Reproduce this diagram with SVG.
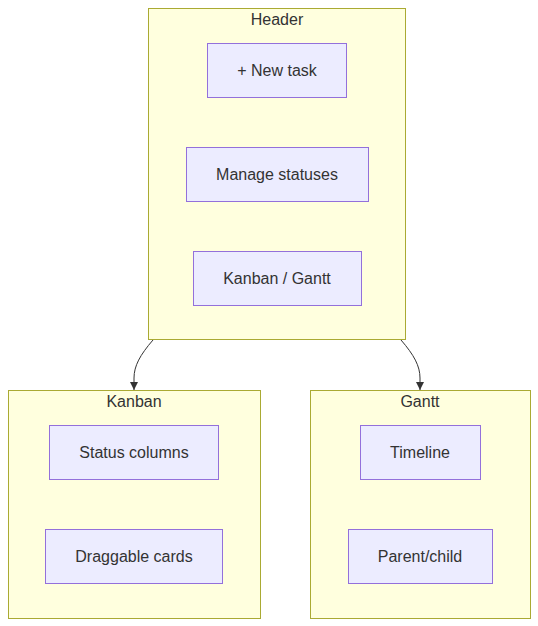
<svg xmlns="http://www.w3.org/2000/svg" width="538" height="626" viewBox="0 0 538 626">
<defs>
<marker id="arr" viewBox="0 0 10 10" refX="10" refY="5" markerWidth="8" markerHeight="8" markerUnits="userSpaceOnUse" orient="auto">
<path d="M0,0 L10,5 L0,10 z" fill="#333"/>
</marker>
</defs>
<style>
.cluster{fill:#ffffde;stroke:#aaaa33;stroke-width:1}
.node rect{fill:#ececff;stroke:#9370db;stroke-width:1}
text{font-family:"Liberation Sans",Arial,sans-serif;font-size:16px;fill:#333;text-anchor:middle}
.edge{fill:none;stroke:#333;stroke-width:1}
</style>
<rect width="538" height="626" fill="#fff"/>
<g id="Header">
<rect class="cluster" x="148.5" y="8.5" width="257" height="331"/>
<text x="277" y="25">Header</text>
</g>
<g id="Kanban">
<rect class="cluster" x="8.5" y="390.5" width="252" height="228"/>
<text x="134" y="407">Kanban</text>
</g>
<g id="Gantt">
<rect class="cluster" x="310.5" y="390.5" width="220" height="228"/>
<text x="420" y="407">Gantt</text>
</g>
<g id="newtask" class="node">
<rect x="207.5" y="43.5" width="139" height="54"/>
<text x="277" y="76">+ New task</text>
</g>
<g id="statuses" class="node">
<rect x="186.5" y="147.5" width="182" height="54"/>
<text x="277" y="180">Manage statuses</text>
</g>
<g id="toggle" class="node">
<rect x="193.5" y="251.5" width="168" height="54"/>
<text x="277" y="284">Kanban / Gantt</text>
</g>
<g id="columns" class="node">
<rect x="49.5" y="425.5" width="169" height="54"/>
<text x="134" y="458">Status columns</text>
</g>
<g id="cards" class="node">
<rect x="45.5" y="529.5" width="177" height="54"/>
<text x="134" y="562">Draggable cards</text>
</g>
<g id="timeline" class="node">
<rect x="360.5" y="425.5" width="120" height="54"/>
<text x="420" y="458">Timeline</text>
</g>
<g id="parent" class="node">
<rect x="348.5" y="529.5" width="144" height="54"/>
<text x="420" y="562">Parent/child</text>
</g>
<g id="connectors">
<path class="edge" d="M153,340 C140,355 134,366 134,378 L134,390" marker-end="url(#arr)"/>
<path class="edge" d="M401,340 C414,355 420,366 420,378 L420,390" marker-end="url(#arr)"/>
</g>
</svg>
